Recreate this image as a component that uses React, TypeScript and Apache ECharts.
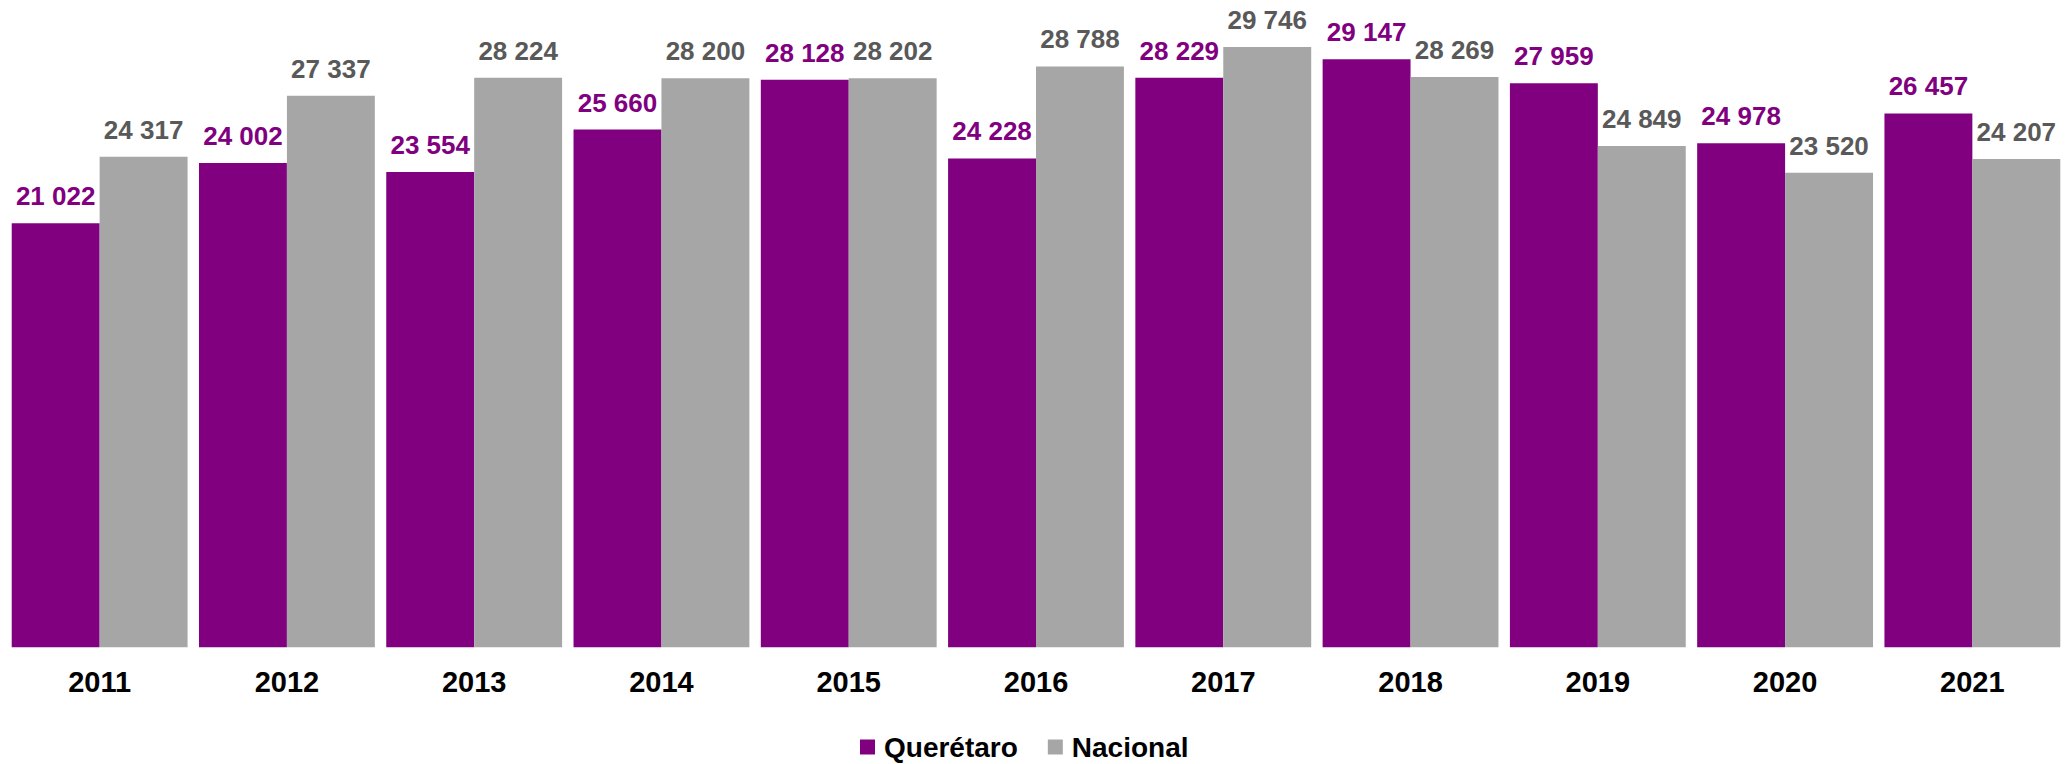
import React, { useEffect, useRef } from "react";
import * as echarts from "echarts";

const years = ["2011", "2012", "2013", "2014", "2015", "2016", "2017", "2018", "2019", "2020", "2021"];
const queretaro = [21022, 24002, 23554, 25660, 28128, 24228, 28229, 29147, 27959, 24978, 26457];
const nacional = [24317, 27337, 28224, 28200, 28202, 28788, 29746, 28269, 24849, 23520, 24207];

const FONT = "'Liberation Sans', Arial, sans-serif";
const fmt = (v: number) => String(v).replace(/\B(?=(\d{3})+(?!\d))/g, " ");

export default function App() {
  const ref = useRef<HTMLDivElement>(null);
  useEffect(() => {
    if (!ref.current) return;
    const chart = echarts.init(ref.current, null, { renderer: "svg" });
    chart.setOption({
      animation: false,
      textStyle: { fontFamily: FONT },
      grid: { left: 6, top: 42, width: 2062.5, bottom: 116.7, containLabel: false },
      legend: {
        top: 733,
        left: 860,
        padding: 0,
        icon: "rect",
        itemWidth: 15,
        itemHeight: 15,
        itemGap: 30,
        textStyle: {
          fontFamily: FONT,
          fontSize: 28,
          lineHeight: 28,
          fontWeight: "bold",
          color: "#000",
          padding: [0, 0, 0, 4],
        },
        data: ["Querétaro", "Nacional"],
      },
      xAxis: {
        type: "category",
        data: years,
        axisLine: { show: false },
        axisTick: { show: false },
        axisLabel: { fontFamily: FONT, fontSize: 29, fontWeight: "bold", color: "#000", margin: 20 },
      },
      yAxis: {
        type: "value",
        min: 0,
        max: 30000,
        show: false,
        splitLine: { show: false },
      },
      series: [
        {
          name: "Querétaro",
          type: "bar",
          data: queretaro,
          barGap: "0%",
          barCategoryGap: "6.1%",
          itemStyle: { color: "#800080" },
          label: {
            show: true,
            position: "top",
            distance: 14,
            fontFamily: FONT,
            fontSize: 26,
            fontWeight: "bold",
            color: "#800080",
            formatter: (p: any) => fmt(p.value),
          },
        },
        {
          name: "Nacional",
          type: "bar",
          data: nacional,
          barGap: "0%",
          barCategoryGap: "6.1%",
          itemStyle: { color: "#A6A6A6" },
          label: {
            show: true,
            position: "top",
            distance: 14,
            fontFamily: FONT,
            fontSize: 26,
            fontWeight: "bold",
            color: "#595959",
            formatter: (p: any) => fmt(p.value),
          },
        },
      ],
    });
    return () => chart.dispose();
  }, []);
  return (
    <div
      ref={ref}
      style={{ position: "fixed", left: 0, top: 0, width: 2066, height: 764, background: "#fff" }}
    />
  );
}
